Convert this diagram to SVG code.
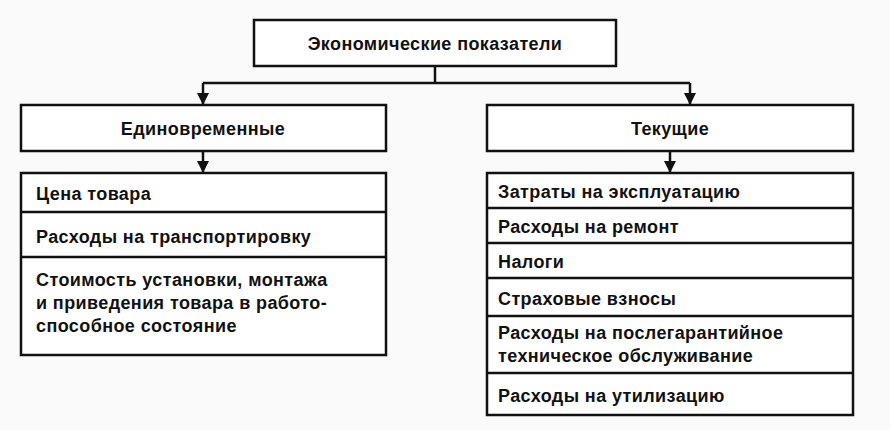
<svg xmlns="http://www.w3.org/2000/svg" width="890" height="430" viewBox="0 0 890 430">
<defs>
<marker id="ar" viewBox="0 0 10 10" refX="10" refY="5" markerWidth="5" markerHeight="5" orient="auto" markerUnits="strokeWidth"><path d="M0,0L10,5L0,10z" fill="#111"/></marker>
<style>
.b{fill:#fff;stroke:#111;stroke-width:2.5}
.l{stroke:#111;stroke-width:2.5;fill:none}
text{font-family:"Liberation Sans",Arial,sans-serif;font-size:18px;font-weight:bold;letter-spacing:0.4px;fill:#111}
.c{text-anchor:middle}
</style>
</defs>
<rect width="890" height="430" fill="#fafafa"/>
<g id="connectors">
<path class="l" d="M435,66V83M203,83H690"/>
<path class="l" d="M203,83V105" marker-end="url(#ar)"/>
<path class="l" d="M690,83V105" marker-end="url(#ar)"/>
<path class="l" d="M203,151V173" marker-end="url(#ar)"/>
<path class="l" d="M670,151V173" marker-end="url(#ar)"/>
</g>
<g id="top"><rect class="b" x="254" y="20" width="362" height="46"/><text class="c" x="435" y="50">Экономические показатели</text></g>
<g id="left-head"><rect class="b" x="21" y="105" width="365" height="46"/><text class="c" x="203" y="135">Единовременные</text></g>
<g id="right-head"><rect class="b" x="487" y="105" width="366" height="46"/><text class="c" x="670" y="135">Текущие</text></g>
<g id="left-list"><rect class="b" x="21" y="173" width="365" height="182"/>
<path class="l" d="M21,212H386M21,257H386"/>
<text x="36" y="200">Цена товара</text>
<text x="36" y="243">Расходы на транспортировку</text>
<text x="36" y="286">Стоимость установки, монтажа</text>
<text x="36" y="309">и приведения товара в работо-</text>
<text x="36" y="332">способное состояние</text>
</g>
<g id="right-list"><rect class="b" x="487" y="173" width="366" height="242"/>
<path class="l" d="M487,208H853M487,243H853M487,278H853M487,316H853M487,373H853"/>
<text x="498" y="198">Затраты на эксплуатацию</text>
<text x="498" y="233">Расходы на ремонт</text>
<text x="498" y="268">Налоги</text>
<text x="498" y="305">Страховые взносы</text>
<text x="498" y="339">Расходы на послегарантийное</text>
<text x="498" y="362">техническое обслуживание</text>
<text x="498" y="402">Расходы на утилизацию</text>
</g>
</svg>
